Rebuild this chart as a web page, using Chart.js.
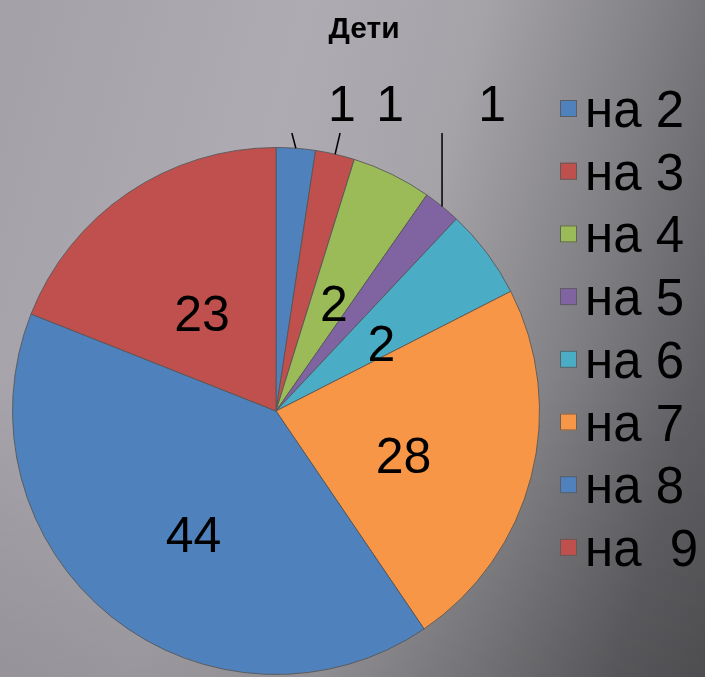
<!DOCTYPE html>
<html>
<head>
<meta charset="utf-8">
<title>Дети</title>
<script src="https://cdn.jsdelivr.net/npm/chart.js@4.4.1/dist/chart.umd.min.js"></script>
<style>
  html, body { margin: 0; padding: 0; }
  body {
    width: 705px; height: 677px; overflow: hidden;
    background:
      linear-gradient(to bottom, rgba(0,0,0,0) 55%, rgba(0,0,0,0.12) 100%),
      linear-gradient(105deg, #a3a1a7 0%, #aeabb2 35%, #a5a3a8 55%, #828185 74%, #626165 90%, #58585b 100%);
  }
  canvas { display: block; }
</style>
</head>
<body>
<canvas id="myChart" width="705" height="677"></canvas>
<script>
///// PIE CHART "Дети" /////

// Datas
const chartTitle = 'Дети';
const categories = ['на 2', 'на 3', 'на 4', 'на 5', 'на 6', 'на 7', 'на 8', 'на  9'];
// slice sizes (percent)
const shares = [2.4, 2.4, 4.9, 2.3, 5.5, 23.0, 40.5, 19.0];
// numbers printed on the slices
const shownValues = [1, 1, 2, 1, 2, 28, 44, 23];
const sliceColors = ['#4f81bd', '#c0504d', '#9bbb59', '#8064a2', '#4bacc6', '#f79646', '#4f81bd', '#c0504d'];

const FONT = '"Liberation Sans", Arial, sans-serif';

// labels on / next to the slices
const sliceLabels = {
    id: 'sliceLabels',
    afterDatasetsDraw(chart) {
        const ctx = chart.ctx;
        const meta = chart.getDatasetMeta(0);
        const top = chart.chartArea.top;
        const tilt = [-4, 5, 0, 0, 0, 0, 0, 0]; // small lean of the leader lines
        ctx.save();
        ctx.fillStyle = '#000';
        ctx.strokeStyle = '#000';
        ctx.font = '50px ' + FONT;
        ctx.textAlign = 'center';
        meta.data.forEach((arc, i) => {
            const v = shownValues[i];
            if (v > 1) {
                const p = arc.getCenterPoint();
                ctx.textBaseline = 'middle';
                ctx.fillText(String(v), p.x, p.y + (v > 40 ? 24 : 15));
            } else {
                const mid = (arc.startAngle + arc.endAngle) / 2;
                const rx = arc.x + Math.cos(mid) * arc.outerRadius;
                const ry = arc.y + Math.sin(mid) * arc.outerRadius;
                const ex = rx + tilt[i];
                const ey = top - 14;
                ctx.lineWidth = 1.5;
                ctx.beginPath();
                ctx.moveTo(rx, ry);
                ctx.lineTo(ex, ey);
                ctx.stroke();
                ctx.textBaseline = 'alphabetic';
                ctx.fillText(String(v), ex + 50, ey - 12);
            }
        });
        ctx.restore();
    }
};

// title + legend on the right, drawn by hand to get the tight box/text gap
const sideLegend = {
    id: 'sideLegend',
    afterDraw(chart) {
        const ctx = chart.ctx;
        const ds = chart.data.datasets[0];
        const x0 = chart.chartArea.right + 20;
        ctx.save();
        ctx.fillStyle = '#000';
        ctx.font = 'bold 30px ' + FONT;
        ctx.textAlign = 'center';
        ctx.textBaseline = 'alphabetic';
        ctx.fillText(chartTitle, 364, 38);

        ctx.font = '51px ' + FONT;
        ctx.textAlign = 'left';
        chart.data.labels.forEach((lab, i) => {
            const base = 127 + i * 62.7;
            ctx.fillStyle = ds.backgroundColor[i];
            ctx.fillRect(x0, base - 27, 17, 17);
            ctx.strokeStyle = 'rgba(90,90,90,0.9)';
            ctx.lineWidth = 1;
            ctx.strokeRect(x0 + 0.5, base - 26.5, 16, 16);
            ctx.fillStyle = '#000';
            ctx.fillText(lab, x0 + 25, base);
        });
        ctx.restore();
    }
};

const myChart = new Chart('myChart', {
    type: 'pie',
    data: {
        labels: categories,
        datasets: [{
            label: chartTitle,
            data: shares,
            backgroundColor: sliceColors,
            borderColor: 'rgba(85,85,85,0.85)',
            borderWidth: 1,
            hoverOffset: 0
        }]
    },
    options: {
        responsive: false,
        animation: false,
        layout: {
            padding: { top: 147, left: 12, right: 165, bottom: 2 }
        },
        plugins: {
            legend: { display: false },
            title: { display: false },
            tooltip: { enabled: false }
        }
    },
    plugins: [sliceLabels, sideLegend]
});
</script>
</body>
</html>
